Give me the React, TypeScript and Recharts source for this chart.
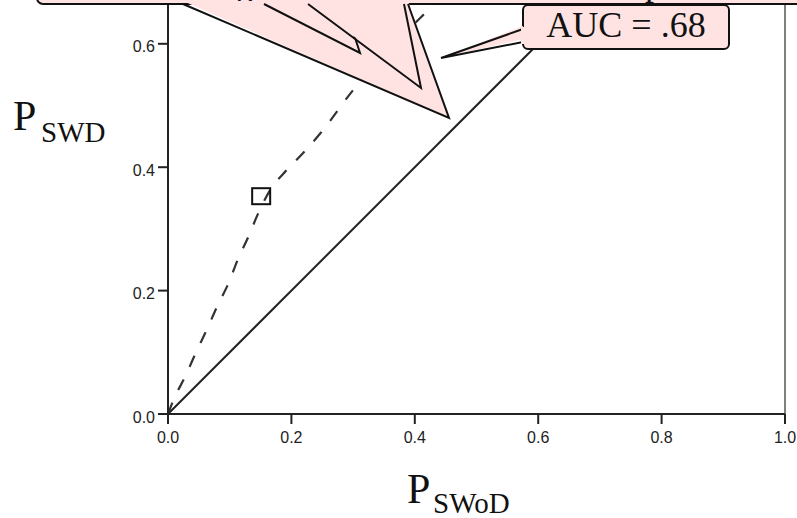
import React from 'react';
import { ComposedChart, Line, Scatter, XAxis, YAxis, ReferenceLine } from 'recharts';

// ROC curve (dashed)
const rocFpr = [0, 0.009, 0.028, 0.045, 0.063, 0.080, 0.099, 0.113, 0.131, 0.147, 0.165, 0.192, 0.219, 0.247, 0.300, 0.417, 1];
const rocTpr = [0, 0.023, 0.061, 0.099, 0.137, 0.175, 0.214, 0.250, 0.289, 0.327, 0.362, 0.395, 0.423, 0.455, 0.525, 0.650, 1];
// chance diagonal
const diagFpr = [0, 1];
const diagTpr = [0, 1];
// operating point (square marker)
const cutFpr = [0.151];
const cutTpr = [0.353];
const xTicks = [0, 0.2, 0.4, 0.6, 0.8, 1.0];
const yTicks = [0, 0.2, 0.4, 0.6];
const aucText = 'AUC = .68';
const xLabelMain = 'P';
const xLabelSub = 'SWoD';
const yLabelMain = 'P';
const yLabelSub = 'SWD';

const rocData = rocFpr.map((x, i) => ({ x, y: rocTpr[i] }));
const diagData = diagFpr.map((x, i) => ({ x, y: diagTpr[i] }));
const cutData = cutFpr.map((x, i) => ({ x, y: cutTpr[i] }));

const PINK = '#ffe3e3';
const SERIF = '"Liberation Serif", "Times New Roman", serif';
const SANS = '"Liberation Sans", Arial, sans-serif';
const tickTextStyle = { fontSize: '16px', fontFamily: SANS, fill: '#222' };

const XTick = (props: any) => {
  const { x, y, payload } = props;
  return (
    <text x={x} y={y} dy={11.3} textAnchor="middle" style={tickTextStyle}>
      {Number(payload.value).toFixed(1)}
    </text>
  );
};

const YTick = (props: any) => {
  const { x, y, payload } = props;
  return (
    <text x={x} y={y} dy={8.5} textAnchor="end" style={tickTextStyle}>
      {Number(payload.value).toFixed(1)}
    </text>
  );
};

const SquareShape = (props: any) => {
  const { cx, cy } = props;
  if (cx == null || cy == null) return null;
  return <rect x={cx - 9} y={cy - 8} width={18} height={16} fill="none" stroke="#111" strokeWidth={2} />;
};

const Pointer = ({ pts }: { pts: [number, number][] }) => {
  const [a, t, b] = pts;
  return (
    <g>
      <polygon points={`${a[0]},${a[1] - 3} ${t[0]},${t[1]} ${b[0]},${b[1] - 3}`} fill={PINK} stroke="none" />
      <polyline points={`${a[0]},${a[1]} ${t[0]},${t[1]} ${b[0]},${b[1]}`} fill="none" stroke="#111" strokeWidth={2} strokeLinejoin="miter" />
    </g>
  );
};

export default function App() {
  return (
    <div style={{ position: 'absolute', left: 0, top: 0, width: 797, height: 518, overflow: 'hidden', background: '#fff' }}>
      <div style={{ position: 'absolute', left: 0, top: -203 }}>
        <ComposedChart width={797} height={721} margin={{ top: 0, right: 12, bottom: 0, left: 0 }}>
          <XAxis
            type="number"
            dataKey="x"
            domain={[0, 1]}
            ticks={xTicks}
            height={104}
            tickSize={10}
            tickMargin={8}
            axisLine={{ stroke: '#222', strokeWidth: 2 }}
            tickLine={{ stroke: '#222', strokeWidth: 2 }}
            tick={<XTick />}
            allowDataOverflow
          />
          <YAxis
            type="number"
            dataKey="y"
            domain={[0, 1]}
            ticks={yTicks}
            width={168}
            tickSize={10}
            tickMargin={3}
            axisLine={{ stroke: '#222', strokeWidth: 2 }}
            tickLine={{ stroke: '#222', strokeWidth: 2 }}
            tick={<YTick />}
            allowDataOverflow
          />
          <ReferenceLine x={1} stroke="#555" strokeWidth={1.5} />
          <Line data={diagData} dataKey="y" type="linear" stroke="#222" strokeWidth={2} dot={false} isAnimationActive={false} />
          <Line data={rocData} dataKey="y" type="monotone" stroke="#333" strokeWidth={2.2} strokeDasharray="12 14" dot={false} isAnimationActive={false} />
          <Scatter data={cutData} dataKey="y" shape={SquareShape} isAnimationActive={false} />
        </ComposedChart>
      </div>
      <svg width={797} height={518} style={{ position: 'absolute', left: 0, top: 0, pointerEvents: 'none' }}>
        {/* large callout (mostly above the visible area) */}
        <rect x={37} y={-70} width={800} height={74} rx={6} fill={PINK} stroke="#111" strokeWidth={2} />
        <text x={236} y={-5.5} fontFamily={SERIF} fontSize={36} fill="#111">g</text>
        <text x={645} y={-5} fontFamily={SERIF} fontSize={36} fill="#111">p</text>
        <Pointer pts={[[183, 4], [449, 118], [408, 4]]} />
        <Pointer pts={[[264, 4], [360, 53], [344, 4]]} />
        <Pointer pts={[[308, 4], [421, 88], [404, 4]]} />
        {/* AUC callout */}
        <rect x={523} y={5} width={206} height={44} rx={5} fill={PINK} stroke="#111" strokeWidth={2} />
        <Pointer pts={[[523, 29], [441, 58], [523, 42]]} />
        <polygon points="521,27 526,27 526,44 521,44" fill={PINK} />
        <text x={626} y={37} textAnchor="middle" fontFamily={SERIF} fontSize={36} fill="#111">{aucText}</text>
        {/* axis titles */}
        <text x={13} y={130} fontFamily={SERIF} fontSize={42} fill="#111">
          {yLabelMain}
          <tspan x={41} y={142} fontSize={29}>{yLabelSub}</tspan>
        </text>
        <text x={407} y={503} fontFamily={SERIF} fontSize={42} fill="#111">
          {xLabelMain}
          <tspan x={433} y={513} fontSize={29}>{xLabelSub}</tspan>
        </text>
      </svg>
    </div>
  );
}
